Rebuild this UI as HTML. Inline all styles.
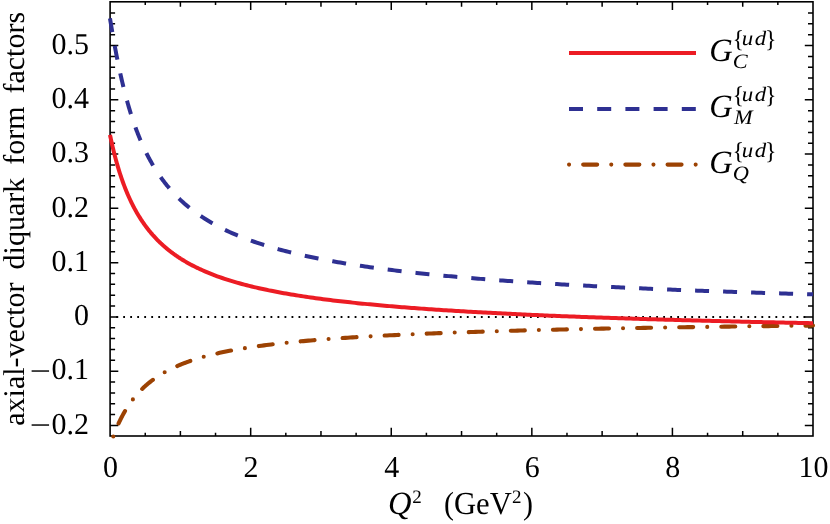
<!DOCTYPE html>
<html><head><meta charset="utf-8"><title>chart</title>
<style>html,body{margin:0;padding:0;background:#fff;}svg{display:block;}</style>
</head><body>
<svg width="830" height="524" viewBox="0 0 830 524" style="will-change:transform">
<rect x="0" y="0" width="830" height="524" fill="#ffffff"/>
<path d="M145.25 436.0 v-3.2 M145.25 1.8 v3.2 M180.39 436.0 v-5.0 M180.39 1.8 v5.0 M215.53 436.0 v-3.2 M215.53 1.8 v3.2 M250.68 436.0 v-8.2 M250.68 1.8 v8.2 M285.82 436.0 v-3.2 M285.82 1.8 v3.2 M320.97 436.0 v-5.0 M320.97 1.8 v5.0 M356.12 436.0 v-3.2 M356.12 1.8 v3.2 M391.26 436.0 v-8.2 M391.26 1.8 v8.2 M426.40 436.0 v-3.2 M426.40 1.8 v3.2 M461.55 436.0 v-5.0 M461.55 1.8 v5.0 M496.69 436.0 v-3.2 M496.69 1.8 v3.2 M531.84 436.0 v-8.2 M531.84 1.8 v8.2 M566.98 436.0 v-3.2 M566.98 1.8 v3.2 M602.13 436.0 v-5.0 M602.13 1.8 v5.0 M637.27 436.0 v-3.2 M637.27 1.8 v3.2 M672.42 436.0 v-8.2 M672.42 1.8 v8.2 M707.56 436.0 v-3.2 M707.56 1.8 v3.2 M742.71 436.0 v-5.0 M742.71 1.8 v5.0 M777.85 436.0 v-3.2 M777.85 1.8 v3.2 M110.1 425.44 h8.2 M813.0 425.44 h-8.2 M110.1 414.59 h5.0 M813.0 414.59 h-5.0 M110.1 403.73 h5.0 M813.0 403.73 h-5.0 M110.1 392.88 h5.0 M813.0 392.88 h-5.0 M110.1 382.02 h5.0 M813.0 382.02 h-5.0 M110.1 371.17 h8.2 M813.0 371.17 h-8.2 M110.1 360.32 h5.0 M813.0 360.32 h-5.0 M110.1 349.46 h5.0 M813.0 349.46 h-5.0 M110.1 338.61 h5.0 M813.0 338.61 h-5.0 M110.1 327.75 h5.0 M813.0 327.75 h-5.0 M110.1 316.90 h8.2 M813.0 316.90 h-8.2 M110.1 306.05 h5.0 M813.0 306.05 h-5.0 M110.1 295.19 h5.0 M813.0 295.19 h-5.0 M110.1 284.34 h5.0 M813.0 284.34 h-5.0 M110.1 273.48 h5.0 M813.0 273.48 h-5.0 M110.1 262.63 h8.2 M813.0 262.63 h-8.2 M110.1 251.78 h5.0 M813.0 251.78 h-5.0 M110.1 240.92 h5.0 M813.0 240.92 h-5.0 M110.1 230.07 h5.0 M813.0 230.07 h-5.0 M110.1 219.21 h5.0 M813.0 219.21 h-5.0 M110.1 208.36 h8.2 M813.0 208.36 h-8.2 M110.1 197.51 h5.0 M813.0 197.51 h-5.0 M110.1 186.65 h5.0 M813.0 186.65 h-5.0 M110.1 175.80 h5.0 M813.0 175.80 h-5.0 M110.1 164.94 h5.0 M813.0 164.94 h-5.0 M110.1 154.09 h8.2 M813.0 154.09 h-8.2 M110.1 143.24 h5.0 M813.0 143.24 h-5.0 M110.1 132.38 h5.0 M813.0 132.38 h-5.0 M110.1 121.53 h5.0 M813.0 121.53 h-5.0 M110.1 110.67 h5.0 M813.0 110.67 h-5.0 M110.1 99.82 h8.2 M813.0 99.82 h-8.2 M110.1 88.97 h5.0 M813.0 88.97 h-5.0 M110.1 78.11 h5.0 M813.0 78.11 h-5.0 M110.1 67.26 h5.0 M813.0 67.26 h-5.0 M110.1 56.40 h5.0 M813.0 56.40 h-5.0 M110.1 45.55 h8.2 M813.0 45.55 h-8.2 M110.1 34.70 h5.0 M813.0 34.70 h-5.0 M110.1 23.84 h5.0 M813.0 23.84 h-5.0 M110.1 12.99 h5.0 M813.0 12.99 h-5.0" stroke="#000" stroke-width="1.5" fill="none"/>
<line x1="116.2" y1="317.0" x2="806" y2="317.0" stroke="#000" stroke-width="1.9" stroke-dasharray="1.8 5.213"/>
<rect x="110.1" y="1.8" width="702.90" height="434.2" fill="none" stroke="#000" stroke-width="1.6"/>
<path d="M113.30 436.47 L113.74 435.28 L114.17 434.11 L114.61 432.97 L115.04 431.84 L115.48 430.74 L115.91 429.66 L116.35 428.61 L116.79 427.57 L117.22 426.55 L117.66 425.55 L118.09 424.56 L118.53 423.60 L118.96 422.65 L119.40 421.72 L119.84 420.81 L120.27 419.91 L120.71 419.03 L121.14 418.16 L121.58 417.31 L122.01 416.48 L122.45 415.65 L122.88 414.84 L123.32 414.05 L123.76 413.26 L124.19 412.49 L124.63 411.74 L125.06 410.99 L125.50 410.26 L125.93 409.54 L126.37 408.83 L126.81 408.13 L127.24 407.44 L127.68 406.76 L128.11 406.09 L128.55 405.43 L128.98 404.79 L129.42 404.15 L129.86 403.52 L130.29 402.90 L130.73 402.29 L131.16 401.69 L131.60 401.09 L132.03 400.51 L132.47 399.93 L132.91 399.36 L133.34 398.80 L133.78 398.25 L134.21 397.71 L134.65 397.17 L135.08 396.64 L135.52 396.12 L135.96 395.60 L136.39 395.09 L136.83 394.59 L137.26 394.09 L137.70 393.60 L138.13 393.12 L138.57 392.64 L139.01 392.17 L139.44 391.71 L139.88 391.25 L140.31 390.80 L140.75 390.35 L141.18 389.91 L141.62 389.47 L142.05 389.04 L142.49 388.62 L142.93 388.20 L143.36 387.78 L143.80 387.37 L144.23 386.97 L144.67 386.57 L145.10 386.17 L145.54 385.78 L145.98 385.39 L146.41 385.01 L146.85 384.64 L147.28 384.26 L147.72 383.89 L148.15 383.53 L148.59 383.17 L149.03 382.81 L149.46 382.46 L149.90 382.11 L150.33 381.77 L150.77 381.42 L151.20 381.09 L151.64 380.75 L152.08 380.42 L152.51 380.10 L152.95 379.77 L153.38 379.46 L153.82 379.14 L154.25 378.83 L154.69 378.52 L155.13 378.21 L155.56 377.91 L156.00 377.61 L156.43 377.31 L156.87 377.02 L157.30 376.73 L157.74 376.44 L158.17 376.15 L158.61 375.87 L159.05 375.59 L159.48 375.32 L159.92 375.04 L160.35 374.77 L160.79 374.50 L161.22 374.24 L161.66 373.98 L162.10 373.71 L162.53 373.46 L162.97 373.20 L163.40 372.95 L163.84 372.70 L164.27 372.45 L164.71 372.20 L165.15 371.96 L165.58 371.72 L166.02 371.48 L166.45 371.24 L166.89 371.01 L167.32 370.77 L167.76 370.54 L168.20 370.32 L168.63 370.09 L169.07 369.86 L169.50 369.64 L169.94 369.42 L170.37 369.20 L170.81 368.99 L171.25 368.77 L171.68 368.56 L172.12 368.35 L172.55 368.14 L172.99 367.93 L173.42 367.73 L173.86 367.52 L174.29 367.32 L174.73 367.12 L175.17 366.92 L175.60 366.73 L176.04 366.53 L176.47 366.34 L176.91 366.15 L177.34 365.96 L177.78 365.77 L178.22 365.58 L178.65 365.40 L179.09 365.21 L179.52 365.03 L179.96 364.85 L180.39 364.67 L180.83 364.49 L181.27 364.31 L181.70 364.14 L182.14 363.96 L182.57 363.79 L183.01 363.62 L183.44 363.45 L183.88 363.28 L184.32 363.12 L184.75 362.95 L185.19 362.79 L185.62 362.62 L186.06 362.46 L186.49 362.30 L186.93 362.14 L187.37 361.98 L187.80 361.82 L188.24 361.67 L188.67 361.51 L189.11 361.36 L189.54 361.21 L189.98 361.06 L190.42 360.91 L190.85 360.76 L191.29 360.61 L191.72 360.46 L192.16 360.32 L192.59 360.17 L193.03 360.03 L193.46 359.89 L193.90 359.74 L194.34 359.60 L194.77 359.46 L195.21 359.33 L195.64 359.19 L196.08 359.05 L196.51 358.92 L196.95 358.78 L197.39 358.65 L197.82 358.51 L198.26 358.38 L198.69 358.25 L199.13 358.12 L199.56 357.99 L200.00 357.86 L202.46 357.15 L204.92 356.47 L207.39 355.81 L209.85 355.18 L212.31 354.57 L214.77 353.98 L217.23 353.41 L219.69 352.86 L222.16 352.33 L224.62 351.81 L227.08 351.31 L229.54 350.83 L232.00 350.36 L234.47 349.91 L236.93 349.47 L239.39 349.04 L241.85 348.63 L244.31 348.22 L246.78 347.83 L249.24 347.45 L251.70 347.08 L254.16 346.72 L256.62 346.37 L259.08 346.03 L261.55 345.69 L264.01 345.37 L266.47 345.05 L268.93 344.74 L271.39 344.44 L273.86 344.15 L276.32 343.86 L278.78 343.58 L281.24 343.31 L283.70 343.04 L286.16 342.78 L288.63 342.52 L291.09 342.27 L293.55 342.03 L296.01 341.79 L298.47 341.55 L300.94 341.32 L303.40 341.10 L305.86 340.88 L308.32 340.66 L310.78 340.45 L313.24 340.24 L315.71 340.04 L318.17 339.84 L320.63 339.64 L323.09 339.45 L325.55 339.26 L328.02 339.07 L330.48 338.89 L332.94 338.71 L335.40 338.54 L337.86 338.37 L340.33 338.20 L342.79 338.03 L345.25 337.87 L347.71 337.70 L350.17 337.55 L352.63 337.39 L355.10 337.24 L357.56 337.09 L360.02 336.94 L362.48 336.79 L364.94 336.65 L367.41 336.50 L369.87 336.37 L372.33 336.23 L374.79 336.09 L377.25 335.96 L379.71 335.83 L382.18 335.70 L384.64 335.57 L387.10 335.44 L389.56 335.32 L392.02 335.20 L394.49 335.08 L396.95 334.96 L399.41 334.84 L401.87 334.73 L404.33 334.61 L406.80 334.50 L409.26 334.39 L411.72 334.28 L414.18 334.17 L416.64 334.06 L419.10 333.96 L421.57 333.85 L424.03 333.75 L426.49 333.65 L428.95 333.55 L431.41 333.45 L433.88 333.35 L436.34 333.26 L438.80 333.16 L441.26 333.07 L443.72 332.97 L446.18 332.88 L448.65 332.79 L451.11 332.70 L453.57 332.61 L456.03 332.52 L458.49 332.44 L460.96 332.35 L463.42 332.27 L465.88 332.18 L468.34 332.10 L470.80 332.02 L473.27 331.94 L475.73 331.86 L478.19 331.78 L480.65 331.70 L483.11 331.62 L485.57 331.54 L488.04 331.47 L490.50 331.39 L492.96 331.32 L495.42 331.24 L497.88 331.17 L500.35 331.10 L502.81 331.03 L505.27 330.96 L507.73 330.89 L510.19 330.82 L512.65 330.75 L515.12 330.68 L517.58 330.61 L520.04 330.55 L522.50 330.48 L524.96 330.42 L527.43 330.35 L529.89 330.29 L532.35 330.22 L534.81 330.16 L537.27 330.10 L539.73 330.04 L542.20 329.98 L544.66 329.92 L547.12 329.86 L549.58 329.80 L552.04 329.74 L554.51 329.68 L556.97 329.62 L559.43 329.57 L561.89 329.51 L564.35 329.45 L566.82 329.40 L569.28 329.34 L571.74 329.29 L574.20 329.23 L576.66 329.18 L579.12 329.13 L581.59 329.07 L584.05 329.02 L586.51 328.97 L588.97 328.92 L591.43 328.87 L593.90 328.82 L596.36 328.77 L598.82 328.72 L601.28 328.67 L603.74 328.62 L606.20 328.57 L608.67 328.52 L611.13 328.47 L613.59 328.43 L616.05 328.38 L618.51 328.33 L620.98 328.29 L623.44 328.24 L625.90 328.20 L628.36 328.15 L630.82 328.11 L633.29 328.06 L635.75 328.02 L638.21 327.98 L640.67 327.93 L643.13 327.89 L645.59 327.85 L648.06 327.81 L650.52 327.76 L652.98 327.72 L655.44 327.68 L657.90 327.64 L660.37 327.60 L662.83 327.56 L665.29 327.52 L667.75 327.48 L670.21 327.44 L672.67 327.40 L675.14 327.36 L677.60 327.32 L680.06 327.28 L682.52 327.25 L684.98 327.21 L687.45 327.17 L689.91 327.13 L692.37 327.10 L694.83 327.06 L697.29 327.03 L699.76 326.99 L702.22 326.95 L704.68 326.92 L707.14 326.88 L709.60 326.85 L712.06 326.81 L714.53 326.78 L716.99 326.74 L719.45 326.71 L721.91 326.68 L724.37 326.64 L726.84 326.61 L729.30 326.58 L731.76 326.54 L734.22 326.51 L736.68 326.48 L739.14 326.45 L741.61 326.41 L744.07 326.38 L746.53 326.35 L748.99 326.32 L751.45 326.29 L753.92 326.26 L756.38 326.23 L758.84 326.20 L761.30 326.17 L763.76 326.14 L766.22 326.11 L768.69 326.08 L771.15 326.05 L773.61 326.02 L776.07 325.99 L778.53 325.96 L781.00 325.93 L783.46 325.90 L785.92 325.87 L788.38 325.84 L790.84 325.82 L793.31 325.79 L795.77 325.76 L798.23 325.73 L800.69 325.71 L803.15 325.68 L805.61 325.65 L808.08 325.62 L810.54 325.60 L813.00 325.57" fill="none" stroke="#9c4203" stroke-width="4.1" stroke-dasharray="0 14.05 14 14.05" stroke-linecap="round" stroke-linejoin="round"/>
<path d="M110.00 18.35 L110.45 21.12 L110.90 23.87 L111.36 26.59 L111.81 29.27 L112.26 31.93 L112.71 34.55 L113.17 37.14 L113.62 39.70 L114.07 42.22 L114.52 44.71 L114.97 47.16 L115.43 49.58 L115.88 51.97 L116.33 54.32 L116.78 56.64 L117.24 58.92 L117.69 61.17 L118.14 63.39 L118.59 65.57 L119.05 67.72 L119.50 69.84 L119.95 71.93 L120.40 73.98 L120.85 76.01 L121.31 78.00 L121.76 79.97 L122.21 81.90 L122.66 83.81 L123.12 85.68 L123.57 87.53 L124.02 89.35 L124.47 91.14 L124.92 92.90 L125.38 94.64 L125.83 96.35 L126.28 98.04 L126.73 99.70 L127.19 101.33 L127.64 102.94 L128.09 104.53 L128.54 106.09 L128.99 107.63 L129.45 109.15 L129.90 110.65 L130.35 112.12 L130.80 113.57 L131.26 115.00 L131.71 116.42 L132.16 117.81 L132.61 119.18 L133.07 120.53 L133.52 121.86 L133.97 123.17 L134.42 124.47 L134.87 125.74 L135.33 127.00 L135.78 128.24 L136.23 129.47 L136.68 130.68 L137.14 131.87 L137.59 133.04 L138.04 134.20 L138.49 135.35 L138.94 136.48 L139.40 137.59 L139.85 138.69 L140.30 139.77 L140.75 140.84 L141.21 141.90 L141.66 142.94 L142.11 143.97 L142.56 144.99 L143.02 145.99 L143.47 146.98 L143.92 147.96 L144.37 148.93 L144.82 149.88 L145.28 150.82 L145.73 151.75 L146.18 152.67 L146.63 153.58 L147.09 154.48 L147.54 155.36 L147.99 156.24 L148.44 157.11 L148.89 157.96 L149.35 158.81 L149.80 159.64 L150.25 160.47 L150.70 161.28 L151.16 162.09 L151.61 162.89 L152.06 163.67 L152.51 164.45 L152.96 165.22 L153.42 165.99 L153.87 166.74 L154.32 167.48 L154.77 168.22 L155.23 168.95 L155.68 169.67 L156.13 170.38 L156.58 171.09 L157.04 171.79 L157.49 172.48 L157.94 173.16 L158.39 173.84 L158.84 174.50 L159.30 175.17 L159.75 175.82 L160.20 176.47 L160.65 177.11 L161.11 177.74 L161.56 178.37 L162.01 178.99 L162.46 179.61 L162.91 180.22 L163.37 180.82 L163.82 181.42 L164.27 182.01 L164.72 182.60 L165.18 183.18 L165.63 183.75 L166.08 184.32 L166.53 184.89 L166.98 185.44 L167.44 186.00 L167.89 186.54 L168.34 187.09 L168.79 187.62 L169.25 188.16 L169.70 188.68 L170.15 189.21 L170.60 189.72 L171.06 190.24 L171.51 190.74 L171.96 191.25 L172.41 191.75 L172.86 192.24 L173.32 192.73 L173.77 193.22 L174.22 193.70 L174.67 194.18 L175.13 194.65 L175.58 195.12 L176.03 195.58 L176.48 196.04 L176.93 196.50 L177.39 196.95 L177.84 197.40 L178.29 197.85 L178.74 198.29 L179.20 198.73 L179.65 199.16 L180.10 199.59 L180.55 200.02 L181.01 200.44 L181.46 200.86 L181.91 201.28 L182.36 201.69 L182.81 202.10 L183.27 202.51 L183.72 202.91 L184.17 203.31 L184.62 203.71 L185.08 204.10 L185.53 204.49 L185.98 204.88 L186.43 205.27 L186.88 205.65 L187.34 206.03 L187.79 206.40 L188.24 206.77 L188.69 207.14 L189.15 207.51 L189.60 207.88 L190.05 208.24 L190.50 208.60 L190.95 208.95 L191.41 209.31 L191.86 209.66 L192.31 210.00 L192.76 210.35 L193.22 210.69 L193.67 211.03 L194.12 211.37 L194.57 211.71 L195.03 212.04 L195.48 212.37 L195.93 212.70 L196.38 213.03 L196.83 213.35 L197.29 213.67 L197.74 213.99 L198.19 214.31 L198.64 214.62 L199.10 214.94 L199.55 215.25 L200.00 215.56 L202.46 217.20 L204.92 218.78 L207.39 220.31 L209.85 221.78 L212.31 223.21 L214.77 224.58 L217.23 225.92 L219.69 227.20 L222.16 228.45 L224.62 229.66 L227.08 230.84 L229.54 231.98 L232.00 233.08 L234.47 234.15 L236.93 235.20 L239.39 236.21 L241.85 237.20 L244.31 238.16 L246.78 239.09 L249.24 240.00 L251.70 240.88 L254.16 241.75 L256.62 242.59 L259.08 243.41 L261.55 244.21 L264.01 245.00 L266.47 245.76 L268.93 246.51 L271.39 247.23 L273.86 247.95 L276.32 248.64 L278.78 249.33 L281.24 249.99 L283.70 250.64 L286.16 251.28 L288.63 251.91 L291.09 252.52 L293.55 253.12 L296.01 253.71 L298.47 254.28 L300.94 254.85 L303.40 255.40 L305.86 255.94 L308.32 256.48 L310.78 257.00 L313.24 257.51 L315.71 258.01 L318.17 258.51 L320.63 258.99 L323.09 259.47 L325.55 259.94 L328.02 260.40 L330.48 260.85 L332.94 261.29 L335.40 261.73 L337.86 262.16 L340.33 262.58 L342.79 263.00 L345.25 263.41 L347.71 263.81 L350.17 264.20 L352.63 264.59 L355.10 264.97 L357.56 265.35 L360.02 265.72 L362.48 266.09 L364.94 266.45 L367.41 266.80 L369.87 267.15 L372.33 267.50 L374.79 267.84 L377.25 268.17 L379.71 268.50 L382.18 268.82 L384.64 269.14 L387.10 269.46 L389.56 269.77 L392.02 270.08 L394.49 270.38 L396.95 270.68 L399.41 270.97 L401.87 271.26 L404.33 271.55 L406.80 271.83 L409.26 272.11 L411.72 272.39 L414.18 272.66 L416.64 272.93 L419.10 273.19 L421.57 273.45 L424.03 273.71 L426.49 273.97 L428.95 274.22 L431.41 274.47 L433.88 274.71 L436.34 274.96 L438.80 275.20 L441.26 275.43 L443.72 275.67 L446.18 275.90 L448.65 276.13 L451.11 276.36 L453.57 276.58 L456.03 276.80 L458.49 277.02 L460.96 277.23 L463.42 277.45 L465.88 277.66 L468.34 277.87 L470.80 278.07 L473.27 278.28 L475.73 278.48 L478.19 278.68 L480.65 278.88 L483.11 279.07 L485.57 279.27 L488.04 279.46 L490.50 279.65 L492.96 279.83 L495.42 280.02 L497.88 280.20 L500.35 280.39 L502.81 280.56 L505.27 280.74 L507.73 280.92 L510.19 281.09 L512.65 281.27 L515.12 281.44 L517.58 281.61 L520.04 281.77 L522.50 281.94 L524.96 282.10 L527.43 282.27 L529.89 282.43 L532.35 282.59 L534.81 282.74 L537.27 282.90 L539.73 283.06 L542.20 283.21 L544.66 283.36 L547.12 283.51 L549.58 283.66 L552.04 283.81 L554.51 283.96 L556.97 284.10 L559.43 284.24 L561.89 284.39 L564.35 284.53 L566.82 284.67 L569.28 284.81 L571.74 284.95 L574.20 285.08 L576.66 285.22 L579.12 285.35 L581.59 285.48 L584.05 285.61 L586.51 285.75 L588.97 285.87 L591.43 286.00 L593.90 286.13 L596.36 286.26 L598.82 286.38 L601.28 286.51 L603.74 286.63 L606.20 286.75 L608.67 286.87 L611.13 286.99 L613.59 287.11 L616.05 287.23 L618.51 287.35 L620.98 287.46 L623.44 287.58 L625.90 287.69 L628.36 287.80 L630.82 287.92 L633.29 288.03 L635.75 288.14 L638.21 288.25 L640.67 288.36 L643.13 288.47 L645.59 288.57 L648.06 288.68 L650.52 288.78 L652.98 288.89 L655.44 288.99 L657.90 289.10 L660.37 289.20 L662.83 289.30 L665.29 289.40 L667.75 289.50 L670.21 289.60 L672.67 289.70 L675.14 289.80 L677.60 289.90 L680.06 289.99 L682.52 290.09 L684.98 290.18 L687.45 290.28 L689.91 290.37 L692.37 290.46 L694.83 290.56 L697.29 290.65 L699.76 290.74 L702.22 290.83 L704.68 290.92 L707.14 291.01 L709.60 291.10 L712.06 291.18 L714.53 291.27 L716.99 291.36 L719.45 291.44 L721.91 291.53 L724.37 291.62 L726.84 291.70 L729.30 291.78 L731.76 291.87 L734.22 291.95 L736.68 292.03 L739.14 292.11 L741.61 292.19 L744.07 292.27 L746.53 292.35 L748.99 292.43 L751.45 292.51 L753.92 292.59 L756.38 292.67 L758.84 292.75 L761.30 292.82 L763.76 292.90 L766.22 292.97 L768.69 293.05 L771.15 293.12 L773.61 293.20 L776.07 293.27 L778.53 293.35 L781.00 293.42 L783.46 293.49 L785.92 293.56 L788.38 293.64 L790.84 293.71 L793.31 293.78 L795.77 293.85 L798.23 293.92 L800.69 293.99 L803.15 294.06 L805.61 294.12 L808.08 294.19 L810.54 294.26 L813.00 294.33" fill="none" stroke="#2e3092" stroke-width="4.0" stroke-dasharray="14 14.02" stroke-linejoin="round"/>
<path d="M110.00 134.82 L110.45 136.99 L110.90 139.12 L111.36 141.20 L111.81 143.23 L112.26 145.22 L112.71 147.16 L113.17 149.07 L113.62 150.93 L114.07 152.76 L114.52 154.55 L114.97 156.30 L115.43 158.02 L115.88 159.70 L116.33 161.35 L116.78 162.97 L117.24 164.56 L117.69 166.12 L118.14 167.65 L118.59 169.14 L119.05 170.62 L119.50 172.06 L119.95 173.48 L120.40 174.87 L120.85 176.24 L121.31 177.58 L121.76 178.90 L122.21 180.20 L122.66 181.48 L123.12 182.73 L123.57 183.96 L124.02 185.17 L124.47 186.36 L124.92 187.53 L125.38 188.68 L125.83 189.82 L126.28 190.93 L126.73 192.03 L127.19 193.11 L127.64 194.17 L128.09 195.22 L128.54 196.25 L128.99 197.26 L129.45 198.26 L129.90 199.25 L130.35 200.22 L130.80 201.17 L131.26 202.11 L131.71 203.04 L132.16 203.95 L132.61 204.85 L133.07 205.74 L133.52 206.61 L133.97 207.47 L134.42 208.32 L134.87 209.16 L135.33 209.99 L135.78 210.80 L136.23 211.61 L136.68 212.40 L137.14 213.18 L137.59 213.95 L138.04 214.72 L138.49 215.47 L138.94 216.21 L139.40 216.94 L139.85 217.66 L140.30 218.38 L140.75 219.08 L141.21 219.78 L141.66 220.46 L142.11 221.14 L142.56 221.81 L143.02 222.47 L143.47 223.13 L143.92 223.77 L144.37 224.41 L144.82 225.04 L145.28 225.66 L145.73 226.28 L146.18 226.88 L146.63 227.48 L147.09 228.08 L147.54 228.66 L147.99 229.24 L148.44 229.82 L148.89 230.38 L149.35 230.94 L149.80 231.50 L150.25 232.04 L150.70 232.59 L151.16 233.12 L151.61 233.65 L152.06 234.17 L152.51 234.69 L152.96 235.20 L153.42 235.71 L153.87 236.21 L154.32 236.71 L154.77 237.20 L155.23 237.69 L155.68 238.17 L156.13 238.64 L156.58 239.11 L157.04 239.58 L157.49 240.04 L157.94 240.49 L158.39 240.95 L158.84 241.39 L159.30 241.84 L159.75 242.27 L160.20 242.71 L160.65 243.14 L161.11 243.56 L161.56 243.98 L162.01 244.40 L162.46 244.81 L162.91 245.22 L163.37 245.63 L163.82 246.03 L164.27 246.43 L164.72 246.82 L165.18 247.21 L165.63 247.60 L166.08 247.98 L166.53 248.36 L166.98 248.73 L167.44 249.11 L167.89 249.47 L168.34 249.84 L168.79 250.20 L169.25 250.56 L169.70 250.92 L170.15 251.27 L170.60 251.62 L171.06 251.96 L171.51 252.31 L171.96 252.65 L172.41 252.98 L172.86 253.32 L173.32 253.65 L173.77 253.98 L174.22 254.30 L174.67 254.63 L175.13 254.95 L175.58 255.26 L176.03 255.58 L176.48 255.89 L176.93 256.20 L177.39 256.51 L177.84 256.81 L178.29 257.11 L178.74 257.41 L179.20 257.71 L179.65 258.01 L180.10 258.30 L180.55 258.59 L181.01 258.87 L181.46 259.16 L181.91 259.44 L182.36 259.72 L182.81 260.00 L183.27 260.28 L183.72 260.55 L184.17 260.82 L184.62 261.09 L185.08 261.36 L185.53 261.63 L185.98 261.89 L186.43 262.15 L186.88 262.41 L187.34 262.67 L187.79 262.93 L188.24 263.18 L188.69 263.43 L189.15 263.68 L189.60 263.93 L190.05 264.18 L190.50 264.42 L190.95 264.66 L191.41 264.91 L191.86 265.14 L192.31 265.38 L192.76 265.62 L193.22 265.85 L193.67 266.08 L194.12 266.31 L194.57 266.54 L195.03 266.77 L195.48 267.00 L195.93 267.22 L196.38 267.44 L196.83 267.67 L197.29 267.89 L197.74 268.10 L198.19 268.32 L198.64 268.53 L199.10 268.75 L199.55 268.96 L200.00 269.17 L202.46 270.29 L204.92 271.38 L207.39 272.42 L209.85 273.43 L212.31 274.40 L214.77 275.35 L217.23 276.26 L219.69 277.14 L222.16 277.99 L224.62 278.82 L227.08 279.63 L229.54 280.41 L232.00 281.16 L234.47 281.90 L236.93 282.61 L239.39 283.30 L241.85 283.98 L244.31 284.63 L246.78 285.27 L249.24 285.89 L251.70 286.50 L254.16 287.09 L256.62 287.66 L259.08 288.23 L261.55 288.77 L264.01 289.31 L266.47 289.83 L268.93 290.34 L271.39 290.83 L273.86 291.32 L276.32 291.79 L278.78 292.26 L281.24 292.71 L283.70 293.16 L286.16 293.59 L288.63 294.02 L291.09 294.43 L293.55 294.84 L296.01 295.24 L298.47 295.63 L300.94 296.01 L303.40 296.39 L305.86 296.76 L308.32 297.12 L310.78 297.48 L313.24 297.82 L315.71 298.16 L318.17 298.50 L320.63 298.83 L323.09 299.15 L325.55 299.47 L328.02 299.78 L330.48 300.09 L332.94 300.39 L335.40 300.68 L337.86 300.98 L340.33 301.26 L342.79 301.54 L345.25 301.82 L347.71 302.09 L350.17 302.36 L352.63 302.62 L355.10 302.88 L357.56 303.14 L360.02 303.39 L362.48 303.64 L364.94 303.88 L367.41 304.12 L369.87 304.36 L372.33 304.59 L374.79 304.82 L377.25 305.05 L379.71 305.27 L382.18 305.49 L384.64 305.71 L387.10 305.92 L389.56 306.13 L392.02 306.34 L394.49 306.54 L396.95 306.75 L399.41 306.95 L401.87 307.14 L404.33 307.34 L406.80 307.53 L409.26 307.72 L411.72 307.91 L414.18 308.09 L416.64 308.27 L419.10 308.45 L421.57 308.63 L424.03 308.81 L426.49 308.98 L428.95 309.15 L431.41 309.32 L433.88 309.49 L436.34 309.65 L438.80 309.82 L441.26 309.98 L443.72 310.14 L446.18 310.30 L448.65 310.45 L451.11 310.61 L453.57 310.76 L456.03 310.91 L458.49 311.06 L460.96 311.21 L463.42 311.35 L465.88 311.50 L468.34 311.64 L470.80 311.78 L473.27 311.92 L475.73 312.06 L478.19 312.20 L480.65 312.33 L483.11 312.46 L485.57 312.60 L488.04 312.73 L490.50 312.86 L492.96 312.99 L495.42 313.11 L497.88 313.24 L500.35 313.37 L502.81 313.49 L505.27 313.61 L507.73 313.73 L510.19 313.85 L512.65 313.97 L515.12 314.09 L517.58 314.21 L520.04 314.32 L522.50 314.44 L524.96 314.55 L527.43 314.66 L529.89 314.77 L532.35 314.88 L534.81 314.99 L537.27 315.10 L539.73 315.21 L542.20 315.32 L544.66 315.42 L547.12 315.53 L549.58 315.63 L552.04 315.73 L554.51 315.83 L556.97 315.93 L559.43 316.03 L561.89 316.13 L564.35 316.23 L566.82 316.33 L569.28 316.43 L571.74 316.52 L574.20 316.62 L576.66 316.71 L579.12 316.81 L581.59 316.90 L584.05 316.99 L586.51 317.08 L588.97 317.17 L591.43 317.26 L593.90 317.35 L596.36 317.44 L598.82 317.53 L601.28 317.61 L603.74 317.70 L606.20 317.79 L608.67 317.87 L611.13 317.96 L613.59 318.04 L616.05 318.12 L618.51 318.21 L620.98 318.29 L623.44 318.37 L625.90 318.45 L628.36 318.53 L630.82 318.61 L633.29 318.69 L635.75 318.76 L638.21 318.84 L640.67 318.92 L643.13 319.00 L645.59 319.07 L648.06 319.15 L650.52 319.22 L652.98 319.30 L655.44 319.37 L657.90 319.44 L660.37 319.52 L662.83 319.59 L665.29 319.66 L667.75 319.73 L670.21 319.80 L672.67 319.87 L675.14 319.94 L677.60 320.01 L680.06 320.08 L682.52 320.15 L684.98 320.21 L687.45 320.28 L689.91 320.35 L692.37 320.41 L694.83 320.48 L697.29 320.55 L699.76 320.61 L702.22 320.68 L704.68 320.74 L707.14 320.80 L709.60 320.87 L712.06 320.93 L714.53 320.99 L716.99 321.05 L719.45 321.11 L721.91 321.18 L724.37 321.24 L726.84 321.30 L729.30 321.36 L731.76 321.42 L734.22 321.48 L736.68 321.53 L739.14 321.59 L741.61 321.65 L744.07 321.71 L746.53 321.77 L748.99 321.82 L751.45 321.88 L753.92 321.94 L756.38 321.99 L758.84 322.05 L761.30 322.10 L763.76 322.16 L766.22 322.21 L768.69 322.26 L771.15 322.32 L773.61 322.37 L776.07 322.43 L778.53 322.48 L781.00 322.53 L783.46 322.58 L785.92 322.63 L788.38 322.69 L790.84 322.74 L793.31 322.79 L795.77 322.84 L798.23 322.89 L800.69 322.94 L803.15 322.99 L805.61 323.04 L808.08 323.09 L810.54 323.13 L813.00 323.18" fill="none" stroke="#ec1c24" stroke-width="4.0" stroke-linejoin="round"/>
<line x1="569" y1="52.9" x2="696" y2="52.9" stroke="#ec1c24" stroke-width="4.0"/>
<line x1="569" y1="108.9" x2="696" y2="108.9" stroke="#2e3092" stroke-width="4.0" stroke-dasharray="14 14.2"/>
<line x1="569.06" y1="164.6" x2="696.5" y2="164.6" stroke="#9c4203" stroke-width="4.1" stroke-dasharray="0 14.1 14 14.1" stroke-linecap="round"/>
<defs><filter id="ga" filterUnits="userSpaceOnUse" x="0" y="0" width="830" height="524"><feOffset dx="0" dy="0"/></filter></defs>
<g filter="url(#ga)" text-rendering="geometricPrecision" fill="#000">
<text transform="translate(110.50 477.00) scale(1.0 1.01)" font-size="30" text-anchor="middle" font-family="Liberation Serif, serif" >0</text>
<text transform="translate(251.08 477.00) scale(1.0 1.01)" font-size="30" text-anchor="middle" font-family="Liberation Serif, serif" >2</text>
<text transform="translate(391.66 477.00) scale(1.0 1.01)" font-size="30" text-anchor="middle" font-family="Liberation Serif, serif" >4</text>
<text transform="translate(532.24 477.00) scale(1.0 1.01)" font-size="30" text-anchor="middle" font-family="Liberation Serif, serif" >6</text>
<text transform="translate(672.82 477.00) scale(1.0 1.01)" font-size="30" text-anchor="middle" font-family="Liberation Serif, serif" >8</text>
<text transform="translate(813.40 477.00) scale(1.0 1.01)" font-size="30" text-anchor="middle" font-family="Liberation Serif, serif" >10</text>
<text transform="translate(89.00 53.75) scale(1.0 1.01)" font-size="30" text-anchor="end" font-family="Liberation Serif, serif" >0.5</text>
<text transform="translate(89.00 108.02) scale(1.0 1.01)" font-size="30" text-anchor="end" font-family="Liberation Serif, serif" >0.4</text>
<text transform="translate(89.00 162.29) scale(1.0 1.01)" font-size="30" text-anchor="end" font-family="Liberation Serif, serif" >0.3</text>
<text transform="translate(89.00 216.56) scale(1.0 1.01)" font-size="30" text-anchor="end" font-family="Liberation Serif, serif" >0.2</text>
<text transform="translate(89.00 270.83) scale(1.0 1.01)" font-size="30" text-anchor="end" font-family="Liberation Serif, serif" >0.1</text>
<text transform="translate(89.00 325.10) scale(1.0 1.01)" font-size="30" text-anchor="end" font-family="Liberation Serif, serif" >0</text>
<text transform="translate(89.00 379.37) scale(1.0 1.01)" font-size="30" text-anchor="end" font-family="Liberation Serif, serif" >0.1</text>
<text transform="translate(29.70 381.17) scale(1.25 1.0)" font-size="30" text-anchor="start" font-family="Liberation Serif, serif" >−</text>
<text transform="translate(89.00 433.64) scale(1.0 1.01)" font-size="30" text-anchor="end" font-family="Liberation Serif, serif" >0.2</text>
<text transform="translate(29.70 435.44) scale(1.25 1.0)" font-size="30" text-anchor="start" font-family="Liberation Serif, serif" >−</text>
<text transform="translate(23.9 218.8) rotate(-90)" font-size="30" text-anchor="middle" font-family="Liberation Serif, serif" word-spacing="5.5">axial-vector diquark form factors</text>
<text transform="translate(387.95 513.70) scale(1.0 1.0)" font-size="32.5" text-anchor="start" font-family="Liberation Serif, serif" font-style="italic" >Q</text>
<text transform="translate(412.30 502.80) scale(1.0 1.0)" font-size="19" text-anchor="start" font-family="Liberation Serif, serif" >2</text>
<text transform="translate(443.90 514.40) scale(1.0 1.067)" font-size="30" text-anchor="start" font-family="Liberation Serif, serif" >(</text>
<text transform="translate(454.00 514.00) scale(1.0 1.05)" font-size="30.6" text-anchor="start" font-family="Liberation Serif, serif" >GeV</text>
<text transform="translate(511.90 503.30) scale(1.0 1.0)" font-size="19" text-anchor="start" font-family="Liberation Serif, serif" >2</text>
<text transform="translate(523.00 514.40) scale(1.0 1.067)" font-size="30" text-anchor="start" font-family="Liberation Serif, serif" >)</text>
<text transform="translate(709.35 60.80) scale(1.0 1.0)" font-size="32.5" text-anchor="start" font-family="Liberation Serif, serif" font-style="italic" >G</text>
<text transform="translate(732.60 46.60) scale(1.0 1.0)" font-size="24" text-anchor="start" font-family="Liberation Serif, serif" >{</text>
<text transform="translate(741.85 45.00) scale(1.12 1.0)" font-size="20.5" text-anchor="start" font-family="Liberation Serif, serif" font-style="italic" letter-spacing="1.3">ud</text>
<text transform="translate(764.90 46.60) scale(1.0 1.0)" font-size="24" text-anchor="start" font-family="Liberation Serif, serif" >}</text>
<text transform="translate(732.70 68.30) scale(1.09 1.0)" font-size="20.5" text-anchor="start" font-family="Liberation Serif, serif" font-style="italic" >C</text>
<text transform="translate(709.35 116.80) scale(1.0 1.0)" font-size="32.5" text-anchor="start" font-family="Liberation Serif, serif" font-style="italic" >G</text>
<text transform="translate(732.60 102.60) scale(1.0 1.0)" font-size="24" text-anchor="start" font-family="Liberation Serif, serif" >{</text>
<text transform="translate(741.85 101.00) scale(1.12 1.0)" font-size="20.5" text-anchor="start" font-family="Liberation Serif, serif" font-style="italic" letter-spacing="1.3">ud</text>
<text transform="translate(764.90 102.60) scale(1.0 1.0)" font-size="24" text-anchor="start" font-family="Liberation Serif, serif" >}</text>
<text transform="translate(734.10 124.30) scale(1.09 1.0)" font-size="20.5" text-anchor="start" font-family="Liberation Serif, serif" font-style="italic" >M</text>
<text transform="translate(709.35 172.80) scale(1.0 1.0)" font-size="32.5" text-anchor="start" font-family="Liberation Serif, serif" font-style="italic" >G</text>
<text transform="translate(732.60 158.60) scale(1.0 1.0)" font-size="24" text-anchor="start" font-family="Liberation Serif, serif" >{</text>
<text transform="translate(741.85 157.00) scale(1.12 1.0)" font-size="20.5" text-anchor="start" font-family="Liberation Serif, serif" font-style="italic" letter-spacing="1.3">ud</text>
<text transform="translate(764.90 158.60) scale(1.0 1.0)" font-size="24" text-anchor="start" font-family="Liberation Serif, serif" >}</text>
<text transform="translate(732.70 180.30) scale(1.09 1.0)" font-size="20.5" text-anchor="start" font-family="Liberation Serif, serif" font-style="italic" >Q</text>
</g>
</svg>
</body></html>
